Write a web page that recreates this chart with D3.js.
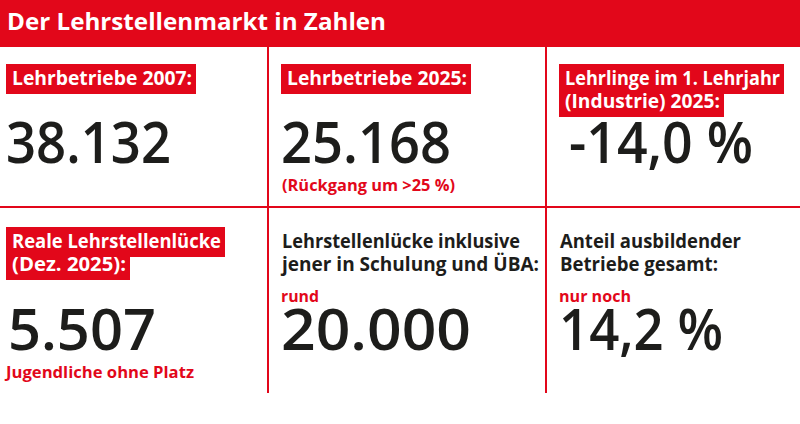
<!DOCTYPE html>
<html><head><meta charset="utf-8">
<script src="https://cdn.jsdelivr.net/npm/d3@7"></script>
<style>html,body{margin:0;padding:0;background:#fff;}svg{display:block;}</style>
</head><body>
<svg id="chart" width="800" height="424"></svg>
<script>
// ---- data ----
const title = "Der Lehrstellenmarkt in Zahlen";
const labels = [
  ["Lehrbetriebe 2007:"],
  ["Lehrbetriebe 2025:"],
  ["Lehrlinge im 1. Lehrjahr", "(Industrie) 2025:"],
  ["Reale Lehrstellenlücke", "(Dez. 2025):"],
  ["Lehrstellenlücke inklusive", "jener in Schulung und ÜBA:"],
  ["Anteil ausbildender", "Betriebe gesamt:"]
];
const highlighted = [true, true, true, true, false, false];
const values = ["38.132", "25.168", "-14,0 %", "5.507", "20.000", "14,2 %"];
const preNotes = ["", "", "", "", "rund", "nur noch"];
const postNotes = ["", "(Rückgang um >25 %)", "", "Jugendliche ohne Platz", "", ""];

// ---- layout (pixel widths the reference typeface takes) ----
const labelWidths = [[180], [180], [215, 155], [209, 114], [238, 257], [181, 158]];
const labelX      = [12, 19, 19, 12, 14, 14];
const valueWidths = [165, 170, 184, 148, 190, 164];
const valueX      = [6, 13, 23, 8, 13, 13];
const preWidths   = [0, 0, 0, 0, 38, 72];
const postWidths  = [0, 173, 0, 188, 0, 0];
const postX       = [0, 15, 0, 7, 0, 0];

const W = 800, H = 424;
const RED = "#e2071a", INK = "#1d1d1b";
const FONT = "'Open Sans', Lato, sans-serif";
const svg = d3.select("#chart");

const colX = d3.scaleOrdinal().domain([0,1,2]).range([0, 268, 546]);
const rowY = d3.scaleOrdinal().domain([0,1]).range([47, 207]);

function fit(sel, w) {
  if (w) sel.attr("textLength", w).attr("lengthAdjust", "spacingAndGlyphs");
  return sel;
}

// header
svg.append("rect").attr("x",0).attr("y",0).attr("width",W).attr("height",47).attr("fill",RED);
fit(svg.append("text").attr("x",7).attr("y",30).attr("fill","#fff")
  .attr("font-family",FONT).attr("font-weight",700).attr("font-size",22.5).text(title), 379);

// grid lines
svg.append("line").attr("x1",0).attr("x2",W).attr("y1",rowY(1)).attr("y2",rowY(1))
  .attr("stroke",RED).attr("stroke-width",2);
[1,2].forEach(c => svg.append("line").attr("x1",colX(c)).attr("x2",colX(c))
  .attr("y1",47).attr("y2",393).attr("stroke",RED).attr("stroke-width",2));

const cells = values.map((v,i) => ({i, col:i%3, row:Math.floor(i/3), v,
  label:labels[i], hl:highlighted[i], pre:preNotes[i], post:postNotes[i]}));

const g = svg.selectAll("g.cell").data(cells).join("g").attr("class","cell")
  .attr("transform", d => `translate(${colX(d.col)},${rowY(d.row)})`);

g.each(function(d){
  const cg = d3.select(this);
  const i = d.i;
  const padL = labelX[i];
  const base0 = d.row === 0 ? 38 : 41;
  let prevBottom = null;
  d.label.forEach((line, k) => {
    const base = base0 + k*23;
    fit(cg.append("text").attr("x",padL).attr("y",base)
      .attr("font-family",FONT).attr("font-weight",700).attr("font-size",19)
      .attr("fill", d.hl ? "#fff" : INK).text(line), labelWidths[i][k]);
    if (d.hl) {
      const w = labelWidths[i][k];
      const top = k === 0 ? base - 21 : prevBottom;
      const bottom = base + 9;
      cg.insert("rect", "text").attr("x",padL-6).attr("y",top)
        .attr("width", w + 10).attr("height", bottom - top).attr("fill",RED);
      prevBottom = bottom;
    }
  });
  if (d.pre) {
    fit(cg.append("text").attr("x",padL - 1).attr("y",95).attr("font-family",FONT)
      .attr("font-weight",700).attr("font-size",15.5).attr("fill",RED).text(d.pre), preWidths[i]);
  }
  const numBase = d.row === 0 ? 116 : 143;
  fit(cg.append("text").attr("x", valueX[i]).attr("y",numBase)
    .attr("font-family",FONT).attr("font-weight",600).attr("font-size",58)
    .attr("fill",INK).text(d.v), valueWidths[i]);
  if (d.post) {
    fit(cg.append("text").attr("x",postX[i] - 1).attr("y",numBase + 28).attr("font-family",FONT)
      .attr("font-weight",700).attr("font-size",15.5).attr("fill",RED).text(d.post), postWidths[i]);
  }
});
</script>
</body></html>
